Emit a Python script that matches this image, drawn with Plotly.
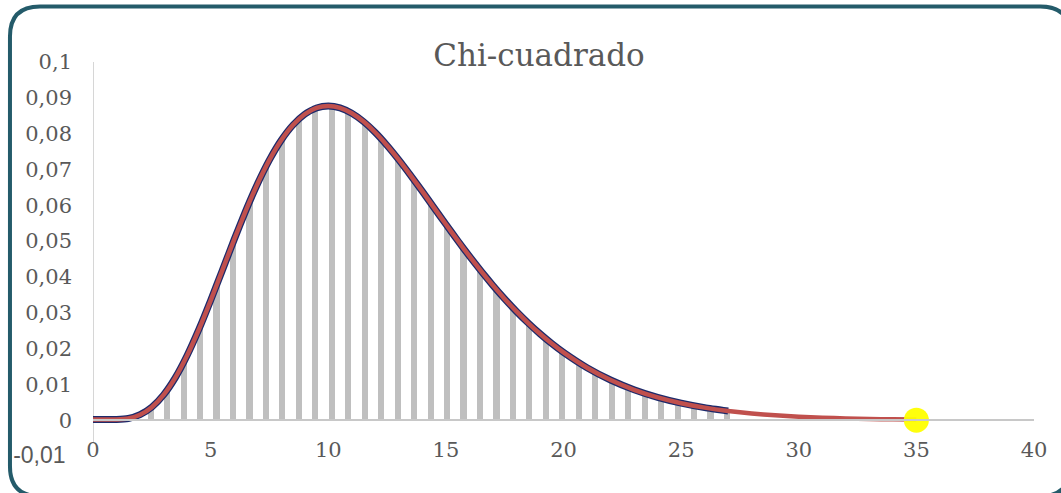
import plotly.graph_objects as go

# ---- data ----
curve_x = [0, 0.5, 1, 1.5, 2, 2.5, 3, 3.5, 4, 4.5, 5, 5.5, 6, 6.5, 7, 7.5, 8, 8.5, 9, 9.5,
           10, 10.5, 11, 11.5, 12, 12.5, 13, 13.5, 14, 14.5, 15, 15.5, 16, 16.5, 17, 17.5,
           18, 18.5, 19, 19.5, 20, 21, 22, 23, 24, 25, 26, 27, 28, 29, 30, 31, 32, 33, 34, 35]
curve_y = [0.0002, 0.0002, 0.0002, 0.00047, 0.00153, 0.00364, 0.00706, 0.01188, 0.01805, 0.02532,
           0.0334, 0.04189, 0.05041, 0.05858, 0.06608, 0.07267, 0.07815, 0.08241, 0.08541, 0.08717,
           0.08773, 0.08721, 0.0857, 0.08336, 0.08032, 0.0767, 0.07268, 0.06836, 0.06387, 0.05927,
           0.05469, 0.05018, 0.0458, 0.0416, 0.03762, 0.03386, 0.03036, 0.02712, 0.02413, 0.0214,
           0.01892, 0.01464, 0.01121, 0.00849, 0.00637, 0.00474, 0.0035, 0.00256, 0.00186, 0.00135,
           0.00097, 0.00069, 0.00049, 0.00035, 0.00024, 0.00017]
navy_end = 27

bar_x = [0.35, 1.05, 1.75, 2.45, 3.15, 3.85, 4.55, 5.25, 5.95, 6.65, 7.35, 8.05, 8.75, 9.45,
         10.15, 10.85, 11.55, 12.25, 12.95, 13.65, 14.35, 15.05, 15.75, 16.45, 17.15, 17.85,
         18.55, 19.25, 19.95, 20.65, 21.35, 22.05, 22.75, 23.45, 24.15, 24.85, 25.55, 26.25,
         26.95, 27.65, 28.35, 29.05, 29.75, 30.45, 31.15, 31.85, 32.55, 33.25, 33.95]
bar_y = [0.0, 0.0001, 0.00089, 0.00338, 0.00836, 0.01607, 0.0261, 0.03762, 0.04957, 0.06091,
         0.0708, 0.07863, 0.08406, 0.08703, 0.08767, 0.08622, 0.08305, 0.07855, 0.07308, 0.06701,
         0.06063, 0.05421, 0.04795, 0.042, 0.03646, 0.03138, 0.0268, 0.02273, 0.01915, 0.01603,
         0.01335, 0.01105, 0.0091, 0.00746, 0.00609, 0.00495, 0.00401, 0.00324, 0.0026,
         0.0003, 0.0003, 0.0003, 0.0003, 0.0003, 0.0003, 0.0003, 0.0003, 0.0003, 0.0003]

point_x = [35]
point_y = [0]

x_ticks = [0, 5, 10, 15, 20, 25, 30, 35, 40]
y_ticks = [-0.01, 0, 0.01, 0.02, 0.03, 0.04, 0.05, 0.06, 0.07, 0.08, 0.09, 0.1]
y_ticktext = ['<span style="font-family:Liberation Sans, Arial;font-size:23px">-0,01 </span>',
              '0', '0,01', '0,02', '0,03', '0,04', '0,05', '0,06', '0,07', '0,08', '0,09', '0,1']
title_text = "Chi-cuadrado"

# ---- figure ----
W, H = 1061, 493
ML, MR, MT, MB = 93, 27.4, 62, 37.2
XR = [0, 40]
YR = [-0.01, 0.1]

navy_x = [x for x in curve_x if x <= navy_end]
navy_y = curve_y[:len(navy_x)]

fig = go.Figure()
fig.add_trace(go.Bar(x=bar_x, y=bar_y, width=0.26, marker=dict(color="#BFBFBF", line=dict(width=0)),
                     hoverinfo="skip"))
fig.add_trace(go.Scatter(x=navy_x, y=navy_y, mode="lines",
                         line=dict(color="#1C2A6B", width=7, shape="spline", smoothing=0.5),
                         hoverinfo="skip"))
fig.add_trace(go.Scatter(x=curve_x, y=curve_y, mode="lines",
                         line=dict(color="#C0504D", width=4.5, shape="spline", smoothing=0.5),
                         hoverinfo="skip"))
fig.add_trace(go.Scatter(x=point_x, y=point_y, mode="markers",
                         marker=dict(color="#FFFF00", size=25, opacity=0.95, line=dict(width=0)),
                         hoverinfo="skip", cliponaxis=False))

pw = W - ML - MR
ph = H - MT - MB


def px2paper(px, py):
    return (px - ML) / pw, (H - MB - py) / ph


def P(px, py):
    a, b = px2paper(px, py)
    return f"{a:.5f},{b:.5f}"


# rounded border
x0, y0, x1, y1, r = 10, 6.5, 1070, 496, 30
path = (f"M {P(x0 + r, y0)} L {P(x1 - r, y0)} Q {P(x1, y0)} {P(x1, y0 + r)} "
        f"L {P(x1, y1 - r)} Q {P(x1, y1)} {P(x1 - r, y1)} L {P(x0 + r, y1)} "
        f"Q {P(x0, y1)} {P(x0, y1 - r)} L {P(x0, y0 + r)} Q {P(x0, y0)} {P(x0 + r, y0)} Z")

fig.add_shape(type="path", path=path, xref="paper", yref="paper",
              line=dict(color="#245B6A", width=4), layer="above")

# y axis line (from 0.1 down to just below 0)
fig.add_shape(type="line", xref="x", yref="y", x0=0, x1=0, y0=-0.0062, y1=0.1,
              line=dict(color="#C8C8C8", width=1.5), layer="below")

fig.update_layout(
    width=W, height=H,
    margin=dict(l=ML, r=MR, t=MT, b=MB, pad=0, autoexpand=False),
    paper_bgcolor="white", plot_bgcolor="white",
    showlegend=False,
    bargap=0,
    title=dict(text=title_text, xref="container", x=539 / W, xanchor="center",
               y=1 - 55 / H, yanchor="middle",
               font=dict(family="DejaVu Serif", size=31, color="#595959")),
    font=dict(family="DejaVu Serif", color="#595959", size=20),
)
fig.update_xaxes(range=XR, tickvals=x_ticks, ticktext=[str(v) for v in x_ticks], automargin=False,
                 showgrid=False, zeroline=False, showline=True, linecolor="#C8C8C8", linewidth=1.5,
                 anchor="free", position=(0 - YR[0]) / (YR[1] - YR[0]),
                 ticks="", ticklabelstandoff=11, tickfont=dict(family="DejaVu Serif", size=21, color="#595959"))
fig.update_yaxes(range=YR, tickvals=y_ticks, ticktext=y_ticktext, automargin=False,
                 showgrid=False, zeroline=False, showline=False,
                 ticks="", ticklabelstandoff=20, tickfont=dict(family="DejaVu Serif", size=21, color="#595959"))

fig.write_html("out.html", config={"displayModeBar": False},
               post_script="document.body.style.margin='0';document.body.style.overflow='hidden';")
